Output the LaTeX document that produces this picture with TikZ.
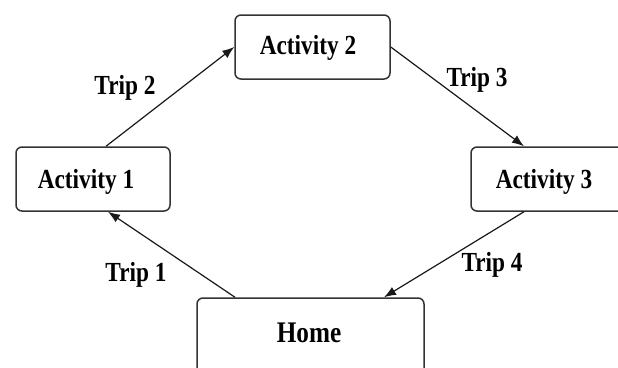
\documentclass[tikz,border=0pt]{standalone}
\usepackage{fontspec}
\setmainfont{Liberation Serif}
\usetikzlibrary{arrows.meta,calc}
\newcommand{\tallt}[1]{\scalebox{0.97}[1.15]{#1}}
\begin{document}
\begin{tikzpicture}[x=1pt,y=1pt,
  actbox/.style={draw=black!80,line width=1.5pt,rounded corners=6pt,fill=white,inner sep=0pt},
  lbl/.style={font=\fontsize{24}{28}\selectfont\bfseries,inner sep=0pt},
  trip/.style={draw=black!90,line width=1.2pt,-{Latex[length=12pt,width=9pt]}}]
\useasboundingbox (0,0) rectangle (618,-367);
\clip (0,0) rectangle (618,-367);
\fill[white] (0,0) rectangle (618,-367);
% boxes
\node[actbox,minimum width=154,minimum height=64] (a1) at (93,-179) {};
\node[actbox,minimum width=155,minimum height=64] (a2) at (312.5,-47) {};
\node[actbox,minimum width=154,minimum height=64] (a3) at (548,-179) {};
\node[actbox,minimum width=227,minimum height=90] (home) at (310.5,-343) {};
% texts
\node[lbl] (t1) at (86,-182) {\tallt{Activity 1}};
\node[lbl] (t2) at (308,-48) {\tallt{Activity 2}};
\node[lbl] (t3) at (544,-182) {\tallt{Activity 3}};
\node[lbl,font=\fontsize{26}{30}\selectfont\bfseries] (th) at (309,-333) {\tallt{Home}};
% trips
\draw[trip] ($(a1.north)+(13,0)$) -- (a2.west);
\draw[trip] (a2.east) -- ($(a3.north)+(-24,0)$);
\draw[trip] ($(a3.south)+(-24,0)$) -- ($(home.north)+(73.5,0)$);
\draw[trip] ($(home.north)+(-75.5,0)$) -- ($(a1.south)+(15,0)$);
% trip labels
\node[lbl] (l2) at (125,-88) {\tallt{Trip 2}};
\node[lbl] (l3) at (477,-80) {\tallt{Trip 3}};
\node[lbl] (l4) at (492,-265) {\tallt{Trip 4}};
\node[lbl] (l1) at (136,-275) {\tallt{Trip 1}};
\end{tikzpicture}
\end{document}
